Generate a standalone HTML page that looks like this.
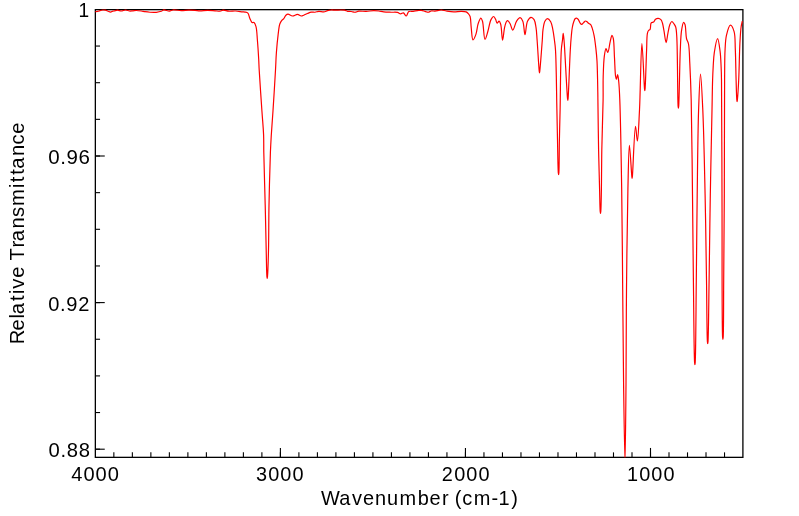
<!DOCTYPE html>
<html><head><meta charset="utf-8"><style>
html,body{margin:0;padding:0;background:#fff;}
svg{display:block;will-change:transform;}
text{font-family:"Liberation Sans",sans-serif;fill:#000;}
</style></head><body>
<svg width="799" height="516" viewBox="0 0 799 516">
<rect x="0" y="0" width="799" height="516" fill="#fff"/>
<g stroke="#000" stroke-width="1.3" fill="none">
<rect x="95.35" y="9.65" width="647.55" height="447.7"/>
</g>
<g stroke="#000" stroke-width="1.1" fill="none">
<line x1="113.85" y1="457.35" x2="113.85" y2="452.35"/>
<line x1="132.36" y1="457.35" x2="132.36" y2="452.35"/>
<line x1="150.87" y1="457.35" x2="150.87" y2="452.35"/>
<line x1="169.37" y1="457.35" x2="169.37" y2="452.35"/>
<line x1="187.88" y1="457.35" x2="187.88" y2="452.35"/>
<line x1="206.38" y1="457.35" x2="206.38" y2="452.35"/>
<line x1="224.88" y1="457.35" x2="224.88" y2="452.35"/>
<line x1="243.39" y1="457.35" x2="243.39" y2="452.35"/>
<line x1="261.89" y1="457.35" x2="261.89" y2="452.35"/>
<line x1="280.4" y1="457.35" x2="280.4" y2="452.35"/>
<line x1="280.4" y1="457.35" x2="280.4" y2="447.95"/>
<line x1="298.9" y1="457.35" x2="298.9" y2="452.35"/>
<line x1="317.41" y1="457.35" x2="317.41" y2="452.35"/>
<line x1="335.91" y1="457.35" x2="335.91" y2="452.35"/>
<line x1="354.42" y1="457.35" x2="354.42" y2="452.35"/>
<line x1="372.92" y1="457.35" x2="372.92" y2="452.35"/>
<line x1="391.43" y1="457.35" x2="391.43" y2="452.35"/>
<line x1="409.93" y1="457.35" x2="409.93" y2="452.35"/>
<line x1="428.44" y1="457.35" x2="428.44" y2="452.35"/>
<line x1="446.94" y1="457.35" x2="446.94" y2="452.35"/>
<line x1="465.45" y1="457.35" x2="465.45" y2="452.35"/>
<line x1="465.45" y1="457.35" x2="465.45" y2="447.95"/>
<line x1="483.95" y1="457.35" x2="483.95" y2="452.35"/>
<line x1="502.46" y1="457.35" x2="502.46" y2="452.35"/>
<line x1="520.97" y1="457.35" x2="520.97" y2="452.35"/>
<line x1="539.47" y1="457.35" x2="539.47" y2="452.35"/>
<line x1="557.98" y1="457.35" x2="557.98" y2="452.35"/>
<line x1="576.48" y1="457.35" x2="576.48" y2="452.35"/>
<line x1="594.99" y1="457.35" x2="594.99" y2="452.35"/>
<line x1="613.49" y1="457.35" x2="613.49" y2="452.35"/>
<line x1="632" y1="457.35" x2="632" y2="452.35"/>
<line x1="650.5" y1="457.35" x2="650.5" y2="452.35"/>
<line x1="650.5" y1="457.35" x2="650.5" y2="447.95"/>
<line x1="669" y1="457.35" x2="669" y2="452.35"/>
<line x1="687.51" y1="457.35" x2="687.51" y2="452.35"/>
<line x1="706.01" y1="457.35" x2="706.01" y2="452.35"/>
<line x1="724.52" y1="457.35" x2="724.52" y2="452.35"/>
<line x1="95.35" y1="46.05" x2="100.05" y2="46.05"/>
<line x1="95.35" y1="82.7" x2="100.05" y2="82.7"/>
<line x1="95.35" y1="119.35" x2="100.05" y2="119.35"/>
<line x1="95.35" y1="156" x2="100.05" y2="156"/>
<line x1="95.35" y1="156" x2="104.75" y2="156"/>
<line x1="95.35" y1="192.65" x2="100.05" y2="192.65"/>
<line x1="95.35" y1="229.3" x2="100.05" y2="229.3"/>
<line x1="95.35" y1="265.95" x2="100.05" y2="265.95"/>
<line x1="95.35" y1="302.6" x2="100.05" y2="302.6"/>
<line x1="95.35" y1="302.6" x2="104.75" y2="302.6"/>
<line x1="95.35" y1="339.25" x2="100.05" y2="339.25"/>
<line x1="95.35" y1="375.9" x2="100.05" y2="375.9"/>
<line x1="95.35" y1="412.55" x2="100.05" y2="412.55"/>
<line x1="95.35" y1="449.2" x2="100.05" y2="449.2"/>
<line x1="95.35" y1="449.2" x2="104.75" y2="449.2"/>
</g>
<clipPath id="c"><rect x="0" y="0" width="799" height="457.6"/></clipPath>
<path clip-path="url(#c)" d="M95.3 11.6 C95.71 11.57 96.96 11.57 97.75 11.4 C98.53 11.23 99.2 10.83 100 10.6 C100.86 10.35 101.83 10.07 102.75 10 C103.66 9.94 104.62 9.99 105.5 10.2 C106.37 10.41 107.16 10.93 108 11.25 C108.83 11.56 109.67 12.12 110.5 12.1 C111.34 12.08 112.28 11.29 113 11.1 C113.52 10.96 113.84 11 114.4 10.9 C115.23 10.75 116.42 10.21 117.5 10.2 C118.69 10.19 119.95 11.01 121.25 11 C122.65 10.99 124.2 9.98 125.6 10 C126.91 10.02 128.14 10.87 129.4 11 C130.61 11.12 131.83 10.89 133 10.8 C134.12 10.72 135.09 10.49 136.3 10.5 C137.78 10.51 139.72 10.78 141.25 11 C142.59 11.19 143.66 11.5 145 11.7 C146.54 11.93 148.24 12.15 150 12.25 C151.96 12.37 154.29 12.49 156.25 12.3 C158.02 12.13 159.9 11.8 161.25 11.3 C162.26 10.93 162.71 10.06 163.75 9.9 C165.22 9.68 167.74 11.17 169.4 11.1 C170.74 11.04 171.54 10.16 173 10 C175.17 9.76 178.56 10.57 181.25 10.6 C183.81 10.62 186.36 10.23 188.75 10.2 C190.93 10.18 193.03 10.27 195 10.4 C196.76 10.52 198.16 10.88 200 10.9 C202.25 10.92 205 10.32 207.5 10.3 C210 10.28 212.75 10.64 215 10.8 C216.84 10.93 218.56 11.37 220 11.2 C221.14 11.06 221.83 10.29 223 10.2 C224.6 10.08 226.74 11.06 228.75 11.2 C230.93 11.36 233.32 10.89 235.6 11 C237.9 11.12 240.77 11.72 242.5 11.9 C243.54 12.01 244.15 11.92 245 12.1 C245.94 12.3 247.14 12.35 247.9 13.1 C248.95 14.14 249.15 16.96 249.9 18.6 C250.54 20.01 251.13 21.83 252 22.4 C252.59 22.79 253.42 22.2 254 22.6 C254.87 23.21 255.48 24.87 256 26.7 C256.9 29.86 256.98 35.38 257.4 40.3 C257.9 46.1 258.39 53.87 258.7 59.3 C258.93 63.37 258.93 65.29 259.2 70 C259.72 79.2 261.09 98.87 261.9 110.7 C262.52 119.84 263.3 127.55 263.6 135 C263.86 141.33 263.66 145.17 263.8 152.6 C264.04 165.42 264.79 188.2 265.2 205 C265.58 220.57 265.88 236.97 266.2 250 C266.44 260 266.57 272.7 266.9 276.5 C266.99 277.55 267.1 278.5 267.2 278.5 C267.3 278.5 267.4 277.55 267.5 276.5 C267.86 272.7 268.26 260 268.5 250 C268.82 236.98 268.71 220.57 269 205 C269.32 188.2 269.9 165.42 270.4 152.6 C270.69 145.17 270.92 141.34 271.3 135 C271.75 127.55 272.4 119.84 273 110.7 C273.78 98.87 274.89 80.75 275.5 70 C275.9 62.95 275.97 58.34 276.4 52.5 C276.83 46.64 277.45 40.06 278.1 34.9 C278.61 30.83 278.92 26.62 279.8 24 C280.35 22.38 281.03 21.25 281.8 20.3 C282.4 19.55 283.18 19.32 283.8 18.6 C284.57 17.71 285.08 15.96 285.9 15.2 C286.53 14.61 287.16 14.13 288 14.1 C289.21 14.05 290.95 15.93 292.5 16 C294.11 16.07 295.97 14.33 297.5 14.4 C298.85 14.46 300.12 15.94 301.25 16 C302.16 16.05 302.85 15.59 303.75 15.25 C304.89 14.82 306.24 14.03 307.5 13.5 C308.74 12.98 309.98 12.3 311.25 12.1 C312.48 11.9 313.76 12.38 315 12.25 C316.26 12.12 317.4 11.39 318.75 11.3 C320.29 11.2 322.22 12.05 323.75 11.9 C325.1 11.77 326.24 11.02 327.5 10.7 C328.74 10.39 329.99 10.1 331.25 10 C332.49 9.9 333.47 10.07 335 10.1 C337.43 10.15 342.14 9.8 344.4 10.2 C345.74 10.44 346.4 11.08 347.5 11.3 C348.67 11.53 350.01 11.34 351.25 11.5 C352.51 11.66 353.76 12.3 355 12.25 C356.26 12.2 357.27 11.38 358.75 11.2 C360.81 10.95 363.75 11.5 366.25 11.4 C368.75 11.3 371.5 10.63 373.75 10.6 C375.58 10.58 377.09 10.78 378.75 11 C380.42 11.22 381.91 11.69 383.75 11.9 C385.99 12.15 388.86 12.17 391.25 12.25 C393.43 12.33 395.81 12.01 397.5 12.4 C398.75 12.68 399.58 13.74 400.6 13.8 C401.55 13.85 402.53 12.67 403.4 12.9 C404.44 13.17 405.39 16.1 406.25 16 C407.19 15.89 407.54 12.36 408.75 11.6 C409.87 10.89 411.65 11.45 413.1 11.3 C414.56 11.15 416.09 10.87 417.5 10.7 C418.8 10.54 420.01 10.2 421.25 10.3 C422.51 10.4 423.81 10.96 425 11.3 C426.09 11.61 427.07 12.29 428.1 12.25 C429.15 12.21 430.13 11.2 431.25 11 C432.43 10.79 433.6 11.2 435 11.1 C436.82 10.97 439.28 9.98 441.25 10 C443.01 10.02 444.41 10.71 446.25 11 C448.49 11.36 451.25 11.85 453.75 11.9 C456.25 11.95 459.01 11.25 461.25 11.3 C463.07 11.34 464.92 11.35 466.2 11.9 C467.19 12.32 467.86 13.05 468.5 13.8 C469.16 14.57 469.68 15.24 470.1 16.5 C470.88 18.86 470.74 23.65 471.2 27.4 C471.69 31.43 471.94 39.72 473 39.9 C473.74 40.03 475.1 36.61 475.9 34.4 C476.97 31.44 477.17 26.45 478.2 23.5 C478.96 21.33 480.11 18.11 480.9 18.1 C481.5 18.1 482.02 19.68 482.5 21.2 C483.61 24.69 483.82 39.28 485 39.4 C485.81 39.48 486.98 34.27 487.9 31.3 C488.99 27.78 489.64 22.16 491 19.6 C491.79 18.11 492.9 16.44 493.7 16.5 C494.46 16.55 495.14 18.51 495.7 19.6 C496.27 20.71 496.46 22.96 497.1 23.1 C497.64 23.22 498.52 21.1 499.1 21.2 C499.75 21.31 500.24 22.81 500.7 24.3 C501.68 27.5 501.91 40.19 502.6 40.2 C503.22 40.21 503.79 30.83 504.6 27.4 C505.16 25.03 505.75 22.56 506.5 21.5 C506.87 20.98 507.27 20.54 507.7 20.6 C508.38 20.69 509.27 22.28 510 23.5 C511.01 25.2 511.79 30.1 512.8 30.1 C513.97 30.1 515.12 23.39 516.6 21.2 C517.66 19.64 519.04 17.63 520.1 17.7 C521.1 17.76 522.08 19.53 522.8 21.2 C524.08 24.14 524.22 34.69 525 34.7 C525.78 34.71 526.01 24.22 527.5 21.2 C528.42 19.33 529.81 17.42 531 17.3 C532.02 17.2 533.31 18.41 534.1 19.6 C535.24 21.32 535.52 24.47 536 27.4 C536.61 31.08 536.7 34.87 537.1 40 C537.72 48.04 538.75 66.82 539.2 71 C539.32 72.07 539.4 73 539.5 73 C539.6 73 539.68 72.07 539.8 71 C540.28 66.82 541.74 47.56 542.3 40 C542.62 35.65 542.53 32.95 543 29.7 C543.43 26.71 543.84 23.12 544.9 21.2 C545.59 19.95 546.59 18.6 547.5 18.6 C548.51 18.6 549.86 20.37 550.7 21.8 C551.8 23.68 552.21 26.56 552.8 29.3 C553.49 32.53 553.94 36.49 554.4 40 C554.84 43.39 555.18 45.26 555.5 50 C556.27 61.59 556.54 93.43 556.9 110 C557.15 121.72 557.27 129.79 557.5 140 C557.74 150.64 557.93 168.29 558.3 172.6 C558.39 173.67 558.5 174.6 558.6 174.6 C558.7 174.6 558.81 173.67 558.9 172.6 C559.25 168.29 559.19 150.64 559.4 140 C559.6 129.79 559.85 121.72 560.1 110 C560.46 93.43 560.49 61.58 561.3 50 C561.63 45.25 562.16 42.99 562.5 40 C562.77 37.57 562.95 33.4 563.2 33.4 C563.45 33.4 563.77 37.57 564 40 C564.29 42.99 564.41 45.42 564.7 50 C565.34 60.08 566.94 92.95 567.5 98.4 C567.62 99.51 567.7 100.4 567.8 100.4 C567.9 100.4 567.99 99.51 568.1 98.4 C568.63 92.95 569.61 61.54 570.3 50 C570.68 43.57 571 39.14 571.4 35 C571.68 32.07 571.85 29.87 572.3 27.5 C572.71 25.32 573.32 22.88 573.9 21.3 C574.28 20.26 574.58 19.31 575.1 18.8 C575.47 18.43 575.94 18.16 576.4 18.2 C576.99 18.25 577.77 18.89 578.3 19.5 C578.94 20.24 579.19 21.65 579.8 22.5 C580.35 23.26 581.06 24.39 581.7 24.4 C582.33 24.41 582.96 23.17 583.6 22.6 C584.23 22.04 584.88 21.07 585.5 21 C586.01 20.95 586.52 21.46 587 21.8 C587.53 22.18 587.93 22.75 588.5 23.2 C589.15 23.72 590.11 23.99 590.7 24.7 C591.4 25.54 591.72 26.72 592.2 28.1 C592.89 30.09 593.54 32.74 594.1 35.6 C594.83 39.32 595.41 44.31 595.9 48.6 C596.37 52.78 596.71 55.93 597 61 C597.46 69 597.67 85.04 597.8 92 C597.87 95.54 597.85 96.19 597.9 100 C598.03 109.52 598.29 134.26 598.6 150 C598.87 164.08 599.3 178.72 599.6 190 C599.82 198.27 599.9 208.15 600.2 211.5 C600.29 212.53 600.4 213.5 600.5 213.5 C600.6 213.5 600.71 212.53 600.8 211.5 C601.1 208.15 601.24 198.27 601.4 190 C601.61 178.72 601.55 164.08 601.8 150 C602.08 134.26 602.89 113.56 603.1 100 C603.24 90.71 602.98 84.02 603.2 76.5 C603.41 69.54 603.61 61.52 604.3 56.4 C604.74 53.17 605.29 48.68 606 48.6 C606.52 48.54 607.24 52.56 607.8 52.5 C608.7 52.4 609.41 44.71 610.2 41.6 C610.8 39.23 611.4 35.43 612 35.4 C612.43 35.38 612.95 36.98 613.3 38.5 C614.15 42.15 614.11 51.5 614.5 57.9 C614.88 64.17 615.01 73.05 615.6 76.5 C615.83 77.86 616.11 79.3 616.4 79.3 C616.77 79.3 617.24 74.68 617.6 74.7 C618.02 74.72 618.39 78.46 618.7 81.2 C619.23 85.83 619.46 91.39 619.8 100 C620.55 118.82 621.22 159.21 621.7 190 C622.2 222.45 622.38 257.09 622.7 290 C623.01 322.07 623.19 355 623.6 385 C623.97 412.01 624.6 462 625 462 C625.4 462 625.75 412.01 626 385 C626.27 355 626.19 322.07 626.5 290 C626.82 257.09 627.26 216.71 627.9 190 C628.32 172.14 628.65 145.32 629.4 145.3 C630.03 145.29 631.33 172.12 631.8 176.3 C631.92 177.37 632 178.3 632.1 178.3 C632.2 178.3 632.28 177.42 632.4 176.3 C632.99 170.75 634.38 126.34 635.5 126.3 C636.11 126.28 636.83 141.02 637.4 141 C638.23 140.97 638.86 122.29 639.5 110 C640.43 92.02 640.96 43.51 641.9 43.5 C642.67 43.49 643.96 83.37 644.5 88.6 C644.61 89.71 644.7 90.6 644.8 90.6 C644.9 90.6 645 89.69 645.1 88.6 C645.55 83.83 646.16 60.21 646.6 50 C646.89 43.28 646.71 36.5 647.4 33.3 C647.69 31.94 647.97 31.17 648.5 30.5 C648.93 29.96 649.68 30.05 650.1 29.4 C650.87 28.19 650.25 23.91 651.2 22.8 C651.78 22.12 652.91 22.51 653.6 22 C654.38 21.42 654.69 19.9 655.5 19.3 C656.25 18.74 657.31 18.34 658.2 18.4 C659.11 18.46 660.2 18.99 660.9 19.7 C661.69 20.51 662.04 21.77 662.5 23.2 C663.15 25.24 663.47 28.06 664 30.9 C664.65 34.39 665.41 42.6 666.1 42.6 C666.71 42.6 667.27 36.34 667.9 33.3 C668.51 30.37 668.93 26.82 669.8 24.7 C670.37 23.31 671.06 21.57 671.8 21.5 C672.5 21.43 673.45 23.08 674.1 24 C674.75 24.92 675.28 25.65 675.7 27 C676.42 29.33 676.49 32.22 676.8 37.1 C677.61 49.83 677.54 99.51 678.1 106.2 C678.2 107.34 678.3 108.2 678.4 108.2 C678.5 108.2 678.6 107.33 678.7 106.2 C679.23 100.26 679.67 63.79 680.3 50 C680.67 41.95 680.72 35.97 681.5 30.9 C682.03 27.47 682.79 22.54 683.6 22.4 C684.03 22.32 684.61 23.42 685 24.5 C685.92 27.05 685.68 34.94 686.5 38.5 C687.03 40.79 687.99 41.56 688.5 44 C689.44 48.45 689.41 55.91 689.8 63.4 C690.34 73.68 690.81 84.94 691.2 100 C691.83 124.25 692.13 164.21 692.5 195 C692.85 224.12 693.05 251.87 693.4 280 C693.75 307.73 693.99 355.19 694.6 362.6 C694.69 363.76 694.8 364.6 694.9 364.6 C695 364.6 695.11 363.76 695.2 362.6 C695.8 355.19 695.97 307.73 696.3 280 C696.64 251.87 696.82 223.33 697.2 195 C697.58 166.67 697.83 132.32 698.6 110 C699.1 95.49 699.8 74.1 700.5 74.1 C701.2 74.1 702.14 95.49 702.8 110 C703.82 132.31 704.48 166.67 705.1 195 C705.72 223.33 706.1 253.93 706.5 280 C706.84 302.21 706.89 335.43 707.4 341.7 C707.49 342.84 707.6 343.7 707.7 343.7 C707.8 343.7 707.91 342.84 708 341.7 C708.52 335.43 708.75 302.21 709.1 280 C709.52 253.93 709.82 223.33 710.3 195 C710.78 166.67 711.58 131.12 712 110 C712.25 97.45 712.34 88.03 712.6 80 C712.77 74.61 712.92 71.03 713.2 66.5 C713.48 61.9 713.58 57.21 714.3 52.6 C715.03 47.91 716.62 38.58 717.6 38.6 C718.54 38.62 719.52 46.94 720.1 51.4 C720.73 56.21 720.87 61.61 721.1 66.5 C721.32 71.12 721.39 73.3 721.5 80 C721.83 99.56 721.83 154.63 722 195 C722.19 239.91 721.83 327.25 722.6 337.3 C722.69 338.5 722.8 339.3 722.9 339.3 C723 339.3 723.11 338.43 723.2 337.3 C723.67 331.29 723.53 300.98 723.7 280 C723.9 254.45 724.15 225.47 724.3 195 C724.47 159.56 724.35 106.17 724.6 80 C724.73 66.43 724.62 57.38 725.1 49.1 C725.42 43.51 725.48 39.3 726.5 35.1 C727.38 31.45 729 25.3 730.4 25.2 C731.57 25.11 733.25 28.82 734.1 31.6 C735.41 35.89 734.99 42.44 735.3 49.1 C735.72 57.94 735.82 70.85 736.1 80 C736.32 87.3 736.51 96.53 736.8 99.7 C736.89 100.72 737 101.7 737.1 101.7 C737.2 101.7 737.29 100.71 737.4 99.7 C737.74 96.53 738.33 87.58 738.7 80 C739.21 69.66 739.38 53.08 739.9 43.3 C740.25 36.77 740.53 31.05 741.1 27 C741.44 24.56 742.1 22.17 742.3 21.2" fill="none" stroke="#f00" stroke-width="1.2" stroke-linejoin="round"/>
<text font-size="20.2" x="0.67" transform="translate(77.94 17.00) scale(0.9495 1)">1</text>
<text font-size="20.2" x="0.34 12.09 18.16 30.14" transform="translate(47.98 163.80) scale(1.0166 1)">0.96</text>
<text font-size="20.2" x="0.47 12.41 18.68 30.67" transform="translate(47.69 310.60) scale(0.9950 1)">0.92</text>
<text font-size="20.2" x="0.42 12.30 18.55 30.64" transform="translate(48.09 456.80) scale(1.0025 1)">0.88</text>
<text font-size="20.2" x="0.47 12.67 24.86 37.05" transform="translate(70.87 480.70) scale(0.9942 1)">4000</text>
<text font-size="20.2" x="0.56 12.85 25.16 37.47" transform="translate(255.55 480.70) scale(0.9843 1)">3000</text>
<text font-size="20.2" x="0.27 12.83 25.13 37.42" transform="translate(441.60 480.70) scale(0.9855 1)">2000</text>
<text font-size="20.2" x="0.44 12.86 25.18 37.50" transform="translate(626.51 480.70) scale(0.9838 1)">1000</text>
<text font-size="20.2" x="-0.01 18.61 31.51 42.60 54.64 66.77 79.55 97.91 109.87 122.35 129.55 135.31 142.96 154.55 172.41 179.65 192.41" transform="translate(320.97 504.80) scale(0.9888 1)">Wavenumber (cm-1)</text>
<text font-size="20.2" x="-0.38 13.51 25.35 29.74 42.79 49.79 55.25 66.22 77.88 83.36 96.26 102.67 115.30 126.96 137.75 155.80 161.56 169.02 175.11 187.74 199.31 210.11" transform="translate(23.80 343.90) rotate(-90) scale(1.0003 1)">Relative Transmittance</text>
</svg>
</body></html>
